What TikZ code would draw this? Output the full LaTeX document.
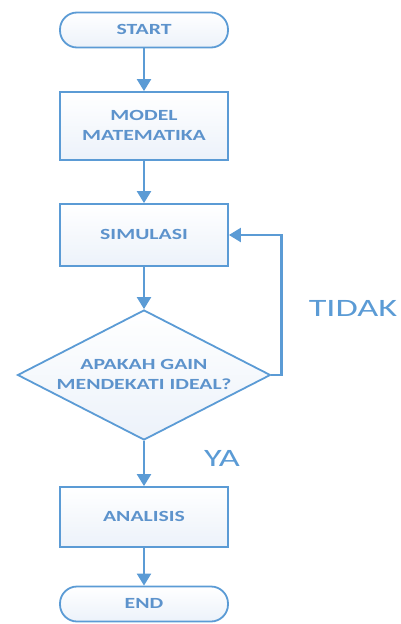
\documentclass[tikz,border=0pt]{standalone}
\usepackage{fontspec}
\setmainfont{Carlito}
\usepackage{graphicx}
\usetikzlibrary{arrows.meta,shapes.geometric}
\definecolor{flowblue}{HTML}{5B9BD5}
\definecolor{flowtext}{HTML}{5D93CC}
\definecolor{flowfill}{HTML}{ECF2FA}
\newcommand{\wtxt}[1]{\scalebox{1.4}[1]{\begin{tabular}{@{}c@{}}#1\end{tabular}}}
\tikzstyle{boxstyle}=[draw=flowblue,line width=1.8pt,top color=white,
                      bottom color=flowfill,text=flowtext,inner sep=0pt,
                      font=\fontsize{15.5}{20}\selectfont\bfseries]
\tikzstyle{procbox}=[boxstyle,rectangle,minimum width=168pt]
\tikzstyle{termbox}=[boxstyle,rectangle,rounded corners=17pt,
                     minimum width=168pt,minimum height=35pt]
\tikzstyle{decbox}=[boxstyle,diamond,aspect=1.95,
                    minimum width=253pt,minimum height=130pt]
\tikzstyle{flowline}=[draw=flowblue,line width=2.2pt,
                      -{Triangle[length=12pt,width=14pt]}]
\tikzstyle{answer}=[text=flowblue,font=\fontsize{25}{28}\selectfont]

\begin{document}
\begin{tikzpicture}[x=1pt,y=-1pt]
    \useasboundingbox (0,0) rectangle (400,624);
    \node (start) at (144, 30) [termbox]{\wtxt{START}};
    \node (model) at (144,126) [procbox,minimum height=68pt]{\wtxt{MODEL\\MATEMATIKA}};
    \node (sim)   at (144,235) [procbox,minimum height=62pt]{\wtxt{SIMULASI}};
    \node (dec)   at (144,375) [decbox]{\wtxt{APAKAH GAIN\\MENDEKATI IDEAL?}};
    \node (anal)  at (144,517) [procbox,minimum height=60pt]{\wtxt{ANALISIS}};
    \node (end)   at (144,604) [termbox]{\wtxt{END}};
    \node (tidak) at (353,308) [answer]{\scalebox{1.45}[1]{TIDAK}};
    \node (ya)    at (222,458) [answer]{\scalebox{1.45}[1]{YA}};
    \draw[flowline] (start) -- (model);
    \draw[flowline] (model) -- (sim);
    \draw[flowline] (sim) -- (dec);
    \draw[flowline] (dec) -- (anal);
    \draw[flowline] (anal) -- (end);
    \draw[flowline] (dec.east) -- ++(10,0) |- (sim.east);
  \end{tikzpicture}
\end{document}
